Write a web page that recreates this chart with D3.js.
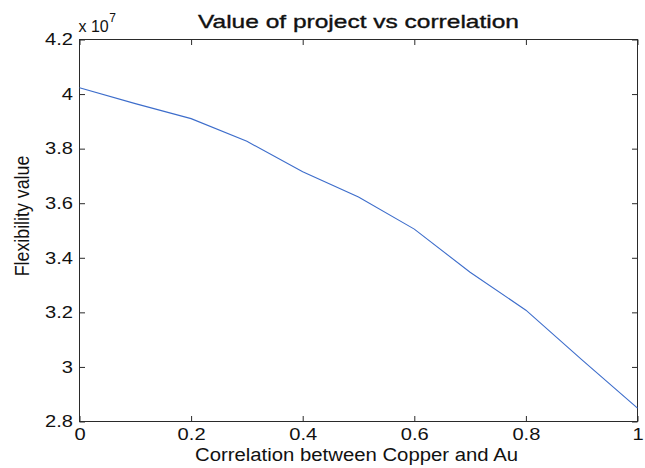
<!DOCTYPE html>
<html>
<head>
<meta charset="utf-8">
<script src="https://cdn.jsdelivr.net/npm/d3@7"></script>
<style>
  html, body { margin: 0; padding: 0; background: #fff; }
  svg { display: block; }
  text { font-family: "Liberation Sans", Arial, sans-serif; fill: #111; }
</style>
</head>
<body>
<svg id="chart" width="645" height="468"></svg>
<script>
// Correlation between the two metals (x) and the resulting flexibility value (in units of 1e7)
const correlation = [0, 0.1, 0.2, 0.3, 0.4, 0.5, 0.6, 0.7, 0.8, 0.9, 1.0];
const flexValue = [4.023, 3.965, 3.910, 3.827, 3.715, 3.623, 3.505, 3.347, 3.208, 3.027, 2.849];

const xTicks = [0, 0.2, 0.4, 0.6, 0.8, 1];
const yTicks = [2.8, 3.0, 3.2, 3.4, 3.6, 3.8, 4.0, 4.2];

const titleText = "Value of project vs correlation";
const xLabelText = "Correlation between Copper and Au";
const yLabelText = "Flexibility value";

const svg = d3.select("#chart");
const plotLeft = 79.5, plotRight = 637.5, plotTop = 39.5, plotBottom = 421.5;
const tickLen = 5.5;
const axisColor = "#2a2a2a";

const x = d3.scaleLinear().domain([0, 1]).range([plotLeft, plotRight]);
const y = d3.scaleLinear().domain([2.8, 4.2]).range([plotBottom, plotTop]);

const fmt = d => String(+d.toFixed(1));

// stretch tick label glyphs horizontally
function widen(sel, k) {
  sel.each(function () {
    const len = this.getComputedTextLength();
    d3.select(this).attr("textLength", len * k).attr("lengthAdjust", "spacingAndGlyphs");
  });
}

// bottom axis with labels
const gx = svg.append("g").attr("transform", `translate(0,${plotBottom})`)
  .call(d3.axisBottom(x).tickValues(xTicks).tickFormat(fmt).tickSize(-tickLen).tickPadding(7));
// left axis with labels
const gy = svg.append("g").attr("transform", `translate(${plotLeft},0)`)
  .call(d3.axisLeft(y).tickValues(yTicks).tickFormat(fmt).tickSize(-tickLen).tickPadding(6.5));
// top and right axes: ticks only
const gt = svg.append("g").attr("transform", `translate(0,${plotTop})`)
  .call(d3.axisTop(x).tickValues(xTicks).tickFormat("").tickSize(-tickLen));
const gr = svg.append("g").attr("transform", `translate(${plotRight},0)`)
  .call(d3.axisRight(y).tickValues(yTicks).tickFormat("").tickSize(-tickLen));

[gx, gy, gt, gr].forEach(g => {
  g.select(".domain").remove();
  g.selectAll(".tick line").attr("stroke", axisColor).attr("stroke-width", 1);
  g.selectAll(".tick text")
    .attr("font-family", "Liberation Sans, Arial, sans-serif")
    .attr("font-size", 16.5)
    .attr("fill", "#111");
});
gx.selectAll(".tick text").call(widen, 1.22);
gy.selectAll(".tick text").call(widen, 1.22);

// axes box
svg.append("rect")
  .attr("x", plotLeft).attr("y", plotTop)
  .attr("width", plotRight - plotLeft).attr("height", plotBottom - plotTop)
  .attr("fill", "none").attr("stroke", axisColor).attr("stroke-width", 1);

// data line
const line = d3.line().x((d, i) => x(correlation[i])).y(d => y(d));
svg.append("path")
  .datum(flexValue)
  .attr("d", line)
  .attr("fill", "none")
  .attr("stroke", "#3d6dcb")
  .attr("stroke-width", 1.1);

// exponent marker
const ex = svg.append("text").attr("x", 78.5).attr("y", 31.5).attr("font-size", 16);
ex.append("tspan").text("x 10");
ex.append("tspan").attr("font-size", 12).attr("dy", -10).attr("dx", 0.5).text("7");

// title
svg.append("text")
  .attr("x", 358.5).attr("y", 28.3)
  .attr("text-anchor", "middle")
  .attr("font-size", 18.5)
  .attr("stroke", "#111").attr("stroke-width", 0.35)
  .attr("textLength", 321).attr("lengthAdjust", "spacingAndGlyphs")
  .text(titleText);

// x axis label
svg.append("text")
  .attr("x", 356.5).attr("y", 460.5)
  .attr("text-anchor", "middle")
  .attr("font-size", 18)
  .attr("textLength", 323).attr("lengthAdjust", "spacingAndGlyphs")
  .text(xLabelText);

// y axis label
svg.append("text")
  .attr("transform", "translate(29,216) scale(1.13,1) rotate(-90)")
  .attr("text-anchor", "middle")
  .attr("font-size", 17.8)
  .text(yLabelText);
</script>
</body>
</html>
